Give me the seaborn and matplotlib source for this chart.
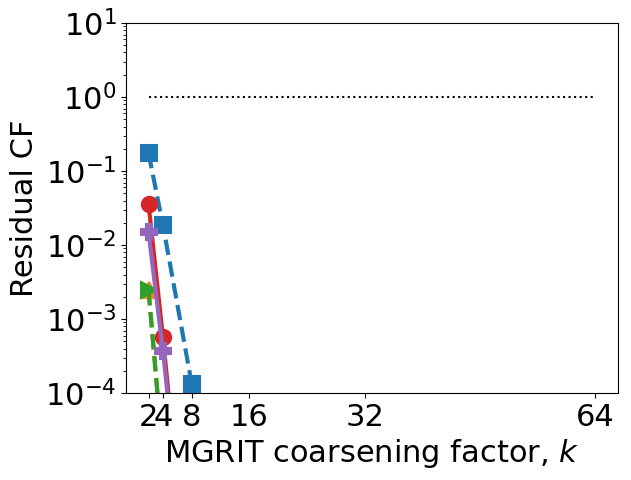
import matplotlib
matplotlib.use("Agg")
import matplotlib.pyplot as plt
import seaborn as sns
import pandas as pd
import numpy as np

k_values = [2, 4, 8, 16]
blue_sq = [0.175, 0.0186, 1.32e-4, 1e-7]
red_circ = [0.0358, 5.7e-4, 6e-8, 1e-10]
purple_plus = [0.0150, 3.7e-4, 8e-8, 1e-10]
green_tri = [0.00247, 1.4e-5, 1e-9, 1e-11]
orange_tri = [0.00247, 1.4e-5, 1e-9, 1e-11]
ref_x = [2, 64]
ref_y = [1.0, 1.0]
xticks = [2, 4, 8, 16, 32, 64]

plt.rcParams['font.size'] = 22
fig, ax = plt.subplots(figsize=(6.31, 4.8), dpi=100)
fig.subplots_adjust(left=0.2, right=0.979, bottom=0.181, top=0.952)

series = [
    (blue_sq, "tab:blue", "s", "--"),
    (orange_tri, "tab:orange", "^", "--"),
    (green_tri, "tab:green", ">", "--"),
    (red_circ, "tab:red", "o", "-"),
    (purple_plus, "tab:purple", "P", "-"),
]
for vals, col, mk, ls in series:
    df = pd.DataFrame({"k": k_values, "r": vals})
    sns.lineplot(data=df, x="k", y="r", ax=ax, color=col, marker=mk,
                 linewidth=3, markersize=11,
                 markeredgewidth=1.5, markeredgecolor=col)
    ax.lines[-1].set_linestyle(ls)

dfr = pd.DataFrame({"k": ref_x, "r": ref_y})
sns.lineplot(data=dfr, x="k", y="r", ax=ax, color="black", linewidth=1.5)
ax.lines[-1].set_linestyle(":")

ax.set_yscale("log")
ax.set_ylim(1e-4, 1e1)
ax.set_xlim(-1.1, 67.1)
ax.set_xticks(xticks)
ax.set_xticklabels([str(x) for x in xticks])
ax.set_xlabel("MGRIT coarsening factor, $k$")
ax.set_ylabel("Residual CF")

fig.savefig("out.png", dpi=100)
